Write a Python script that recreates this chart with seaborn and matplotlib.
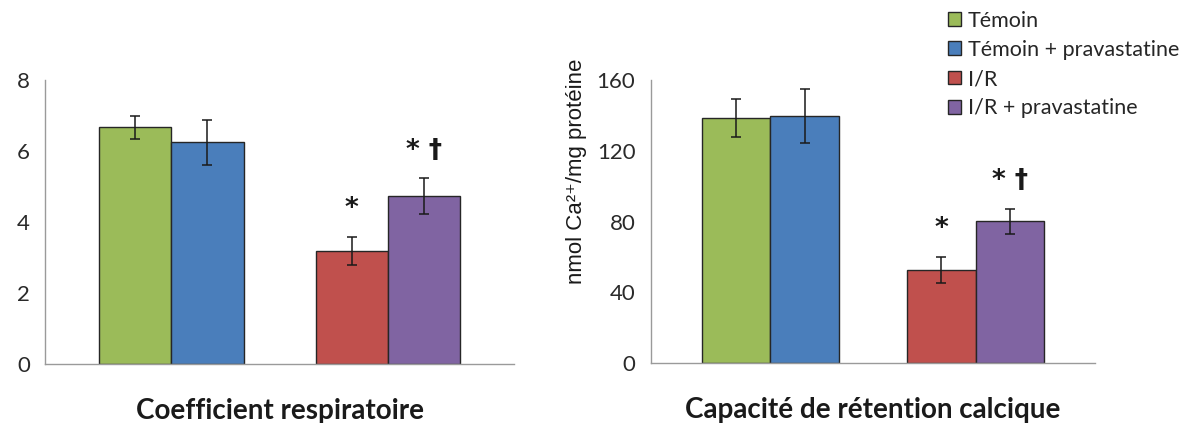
import numpy as np
import pandas as pd
import seaborn as sns
import matplotlib.pyplot as plt
from matplotlib.patches import Patch

# Data
groups = ["Témoin", "I/R"]
treatments = ["sans", "pravastatine"]
legend_labels = ["Témoin", "Témoin + pravastatine", "I/R", "I/R + pravastatine"]
bar_colors = ["#9BBB59", "#4A7EBB", "#C0504D", "#8064A2"]

resp_means = [6.67, 6.24, 3.19, 4.73]
resp_err = [0.32, 0.64, 0.40, 0.50]
calc_means = [138.4, 139.7, 52.7, 80.2]
calc_err = [10.7, 15.4, 7.3, 7.0]

marks = ["", "", "*", "* †"]
titles = ["Coefficient respiratoire", "Capacité de rétention calcique"]
ylabel_calc = "nmol Ca²⁺/mg protéine"
resp_ticks = [0, 2, 4, 6, 8]
calc_ticks = [0, 40, 80, 120, 160]

sns.set_style("white")
plt.rcParams["font.family"] = ["Lato", "DejaVu Sans"]

AXIS_GREY = "#9A9A9A"
XLIM = (-0.584, 1.584)


def make_frame(means):
    return pd.DataFrame({
        "groupe": [groups[0], groups[0], groups[1], groups[1]],
        "traitement": [treatments[0], treatments[1], treatments[0], treatments[1]],
        "valeur": means,
    })


def draw_panel(ax, means, errs, ticks, title, ylabel=None):
    df = make_frame(means)
    sns.barplot(data=df, x="groupe", y="valeur", hue="traitement",
                order=groups, hue_order=treatments, width=0.667,
                errorbar=None, legend=False, ax=ax,
                edgecolor="#262626", linewidth=1.0)

    # recolour bars: container per hue level, bars in group order
    centers = [None] * 4
    for h, cont in enumerate(ax.containers):
        for g, bar in enumerate(cont):
            idx = g * 2 + h
            bar.set_facecolor(bar_colors[idx])
            bar.set_zorder(2)
            centers[idx] = bar.get_x() + bar.get_width() / 2

    ax.errorbar(centers, means, yerr=errs, fmt="none", ecolor="#1a1a1a",
                elinewidth=1.1, capsize=3.5, capthick=1.1, zorder=3)

    for c, m, e, txt in zip(centers, means, errs, marks):
        if txt:
            ax.annotate(txt, (c, m + e), xytext=(0, 20), textcoords="offset points",
                        ha="center", va="center", fontsize=19, fontweight="bold",
                        family=["DejaVu Sans"], color="#1a1a1a")

    ax.set_ylim(ticks[0], ticks[-1])
    ax.set_yticks(ticks)
    ax.set_xlim(*XLIM)
    ax.set_xticks(list(XLIM))
    ax.set_xticklabels(["", ""])
    ax.set_xlabel("")
    ax.set_ylabel("")
    sns.despine(ax=ax)
    for s in ["left", "bottom"]:
        ax.spines[s].set_color(AXIS_GREY)
        ax.spines[s].set_linewidth(1.0)
    ax.tick_params(axis="both", direction="out", length=4, width=1.0,
                   color=AXIS_GREY, labelsize=16, pad=7, labelcolor="#2a2a2a")

    ax.text(0.5, -0.165, title, transform=ax.transAxes, ha="center", va="center",
            fontsize=20, fontweight="bold", color="#1a1a1a")
    if ylabel:
        ax.set_ylabel(ylabel, fontsize=16, family=["Liberation Sans", "DejaVu Sans"],
                      color="#1a1a1a")
        ax.yaxis.set_label_coords(-0.143, 0.678)


fig = plt.figure(figsize=(11.85, 4.23), dpi=100)
ax1 = fig.add_axes([0.038, 0.1395, 0.3958, 0.6714])
ax2 = fig.add_axes([0.5491, 0.1411, 0.3752, 0.670])

draw_panel(ax1, resp_means, resp_err, resp_ticks, titles[0])
draw_panel(ax2, calc_means, calc_err, calc_ticks, titles[1], ylabel_calc)

handles = [Patch(facecolor=c, edgecolor="#262626", linewidth=1.0) for c in bar_colors]
fig.legend(handles, legend_labels, loc="upper left",
           bbox_to_anchor=(948 / 1185, 1 - 11 / 423), frameon=False,
           fontsize=15.5, handlelength=0.62, handleheight=0.62,
           handletextpad=0.3, labelspacing=0.42, borderpad=0, borderaxespad=0)

fig.savefig("out.png", dpi=100)
